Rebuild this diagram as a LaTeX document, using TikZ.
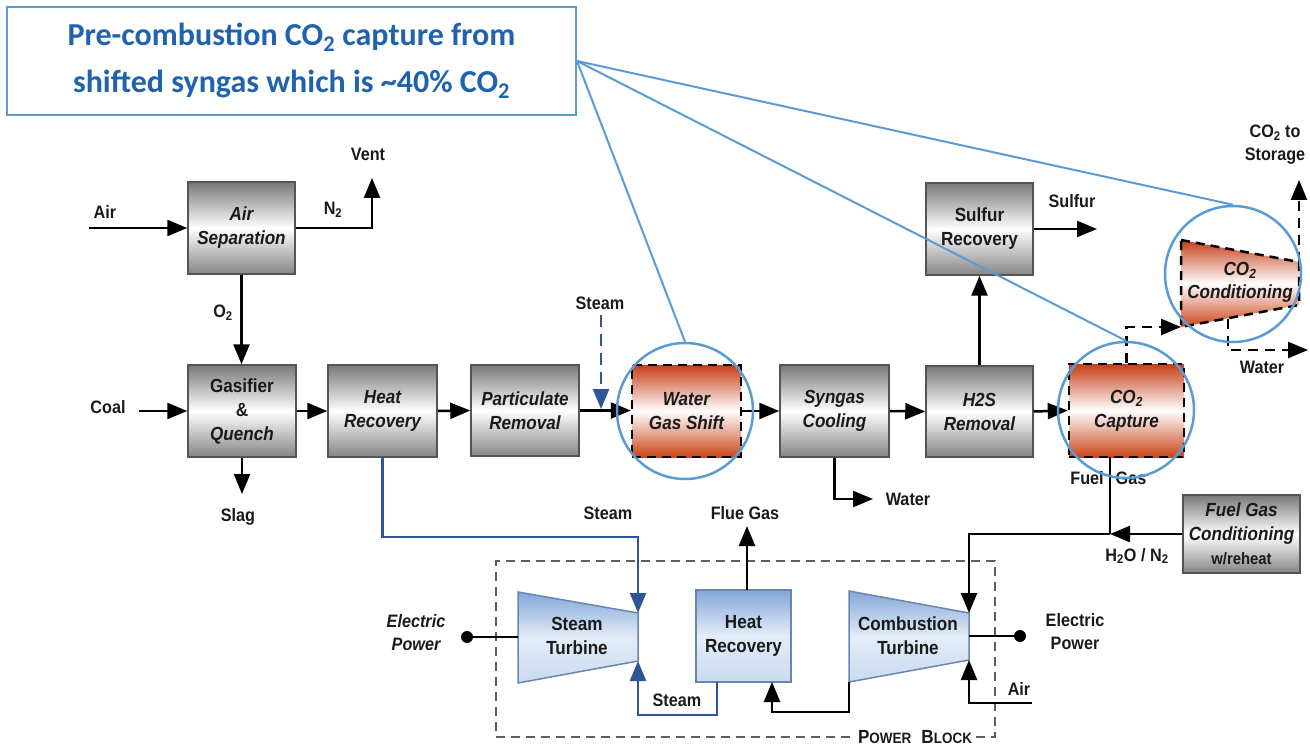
\documentclass[tikz,border=0pt]{standalone}
\usepackage{fontspec}
\setmainfont[FakeStretch=0.9]{Liberation Sans}
\newfontfamily\titlefont{Carlito}
\usetikzlibrary{arrows.meta}
\definecolor{cblue}{HTML}{5B9BD5}
\definecolor{tblue}{HTML}{1F63AE}
\definecolor{sblue}{HTML}{2E5597}
\definecolor{gtop}{HTML}{787878}
\definecolor{gbot}{HTML}{858585}
\definecolor{gline}{HTML}{555555}
\definecolor{otop}{HTML}{C63E18}
\definecolor{obot}{HTML}{CB4519}
\definecolor{btop}{HTML}{82A7D9}
\definecolor{bmid}{HTML}{E4ECF8}
\definecolor{bbot}{HTML}{CADAF0}
\definecolor{bline}{HTML}{6A86AE}
\definecolor{pbgray}{HTML}{5E5E5E}
\definecolor{txt}{HTML}{1A1A1A}
\begin{document}
\begin{tikzpicture}[x=1pt,y=-1pt,
  flow/.style={line width=2.5pt,draw=black,-{Triangle[length=20pt,width=16pt]}},
  dflow/.style={flow,dash pattern=on 10pt off 7pt},
  sflow/.style={line width=2.5pt,draw=sblue,-{Triangle[length=20pt,width=16pt]}},
  plain/.style={line width=2.5pt,draw=black},
  graybox/.style={draw=gline,line width=1.5pt,top color=gtop,bottom color=gbot,middle color=white,
    inner sep=0pt,align=center,text=txt,font=\fontsize{19}{24}\selectfont\bfseries},
  orangebox/.style={draw=black,line width=2.5pt,dash pattern=on 9pt off 6pt,top color=otop,bottom color=obot,middle color=white,
    inner sep=0pt,align=center,text=txt,font=\fontsize{19}{24}\selectfont\bfseries\itshape},
  bluebox/.style={draw=bline,line width=1.5pt,top color=btop,bottom color=bbot,middle color=bmid,
    inner sep=0pt,align=center,text=txt,font=\fontsize{19}{24}\selectfont\bfseries},
  txtnode/.style={inner sep=0pt,align=center,text=txt,font=\fontsize{19}{24}\selectfont\bfseries},
  lbl/.style={inner sep=0pt,align=center,text=txt,font=\fontsize{18}{23}\selectfont\bfseries},
  ring/.style={circle,draw=cblue,line width=2.5pt,minimum size=136pt,inner sep=0pt},
  callout/.style={draw=cblue,line width=2pt}
]
\useasboundingbox (0,0) rectangle (1310,746);

% ---------- title box ----------
\node[draw=cblue,line width=2pt,minimum width=569pt,minimum height=108pt,inner sep=0pt,
  align=center,text=tblue,font=\titlefont\fontsize{32}{47}\selectfont\bfseries] (title) at (291.5,61)
  {Pre-combustion CO\textsubscript{2} capture from\\shifted syngas which is \textasciitilde40\% CO\textsubscript{2}};

% ---------- gray process boxes ----------
\node[graybox,minimum width=107pt,minimum height=92pt] (asep) at (241.5,228) {\itshape Air\\\itshape Separation};
\node[graybox,minimum width=108pt,minimum height=92pt] (gasq) at (242,411) {Gasifier\\\&\\\itshape Quench};
\node[graybox,minimum width=109pt,minimum height=92pt] (hr1) at (382.5,411) {\itshape Heat\\\itshape Recovery};
\node[graybox,minimum width=108pt,minimum height=91pt] (part) at (525,410.5) {\itshape Particulate\\\itshape Removal};
\node[orangebox,minimum width=109pt,minimum height=92pt] (wgs) at (686.5,411) {Water\\Gas Shift};
\node[graybox,minimum width=109pt,minimum height=92pt] (syn) at (834.5,411) {\itshape Syngas\\\itshape Cooling};
\node[graybox,minimum width=107pt,minimum height=91pt] (h2s) at (979.5,411.5) {\itshape H2S\\\itshape Removal};
\node[graybox,minimum width=107pt,minimum height=92pt] (sulf) at (979.5,229) {Sulfur\\Recovery};
\node[orangebox,minimum width=115pt,minimum height=93pt] (cap) at (1126.5,410.5) {CO\textsubscript{2}\\Capture};
\node[graybox,minimum width=117pt,minimum height=78pt] (fgc) at (1241.5,534)
  {\itshape Fuel Gas\\\itshape Conditioning\\\fontsize{16.5}{20}\selectfont w/reheat};

% ---------- CO2 conditioning trapezoid ----------
\coordinate (cd1) at (1181,240);
\coordinate (cd2) at (1299,262);
\coordinate (cd3) at (1299,305);
\coordinate (cd4) at (1181,327);
\path[top color=otop,bottom color=obot,middle color=white] (cd1) -- (cd2) -- (cd3) -- (cd4) -- cycle;
\draw[line width=2.5pt,dash pattern=on 9pt off 6pt] (cd1) -- (cd2) -- (cd3) -- (cd4) -- cycle;
\node[txtnode,font=\fontsize{19}{23}\selectfont\bfseries\itshape] (cond) at (1240,282) {CO\textsubscript{2}\\Conditioning};

% ---------- power block ----------
\node[draw=pbgray,line width=1.5pt,dash pattern=on 9pt off 6pt,minimum width=499pt,minimum height=176pt,inner sep=0pt] (pb) at (745.5,649) {};
\node[fill=white,inner sep=3pt,text=txt,font=\bfseries] (pblbl) at (915,737)
  {\fontsize{19}{20}\selectfont P\fontsize{15}{20}\selectfont OWER\hspace{10pt}\fontsize{19}{20}\selectfont B\fontsize{15}{20}\selectfont LOCK};

% steam turbine
\coordinate (st1) at (518,592);
\coordinate (st2) at (638,613);
\coordinate (st3) at (638,661);
\coordinate (st4) at (518,683);
\coordinate (ste) at (518,637);
\path[top color=btop,bottom color=bbot,middle color=bmid] (st1) -- (st2) -- (st3) -- (st4) -- cycle;
\draw[draw=bline,line width=1.5pt] (st1) -- (st2) -- (st3) -- (st4) -- cycle;
\node[txtnode] (st) at (577,636) {Steam\\Turbine};

% combustion turbine
\coordinate (ct1) at (849,591);
\coordinate (ct2) at (969,613);
\coordinate (ct3) at (969,660);
\coordinate (ct4) at (849,682);
\coordinate (cte) at (969,636);
\path[top color=btop,bottom color=bbot,middle color=bmid] (ct1) -- (ct2) -- (ct3) -- (ct4) -- cycle;
\draw[draw=bline,line width=1.5pt] (ct1) -- (ct2) -- (ct3) -- (ct4) -- cycle;
\node[txtnode] (ct) at (908,636) {Combustion\\Turbine};

% heat recovery (HRSG)
\node[bluebox,minimum width=95pt,minimum height=92pt] (hr2) at (743.5,636) {Heat\\Recovery};

% ---------- coordinates for free ends ----------
\coordinate (airin) at (89,228);
\coordinate (vent) at (372,178);
\coordinate (coalin) at (139,411);
\coordinate (slag) at (242,494);
\coordinate (stmtop) at (601,315);
\coordinate (stmbot) at (601,409);
\coordinate (sulfout) at (1097,229);
\coordinate (synw) at (873,499);
\coordinate (condw) at (1228,319);
\coordinate (condwout) at (1308,350);
\coordinate (storage) at (1299,180);
\coordinate (capfg) at (1110,457);
\coordinate (fgj) at (1110,534);
\coordinate (ctdot) at (1020,636);
\coordinate (ctair) at (1032,703);
\coordinate (hrin) at (772,682);
\coordinate (hrst) at (717,682);
\coordinate (flue) at (747,526);
\coordinate (hrflue) at (747,590);
\coordinate (stdot) at (467,637);

% ---------- connectors ----------
\draw[flow] (airin) -- (asep.west);
\draw[flow] (asep.east) -| (vent);
\draw[flow] (asep.south) -- (asep.south |- gasq.north);
\draw[flow] (coalin) -- (gasq.west);
\draw[flow] (gasq.south) -- (slag);
\draw[flow] (gasq.east) -- (hr1.west);
\draw[flow] (hr1.east) -- (part.west);
\draw[flow] (part.east) -- (wgs.west |- part.east);
\draw[line width=2.5pt,draw=sblue,dash pattern=on 12pt off 7pt,-{Triangle[length=20pt,width=16pt]}] (stmtop) -- (stmbot);
\draw[flow] (wgs.east) -- (syn.west);
\draw[flow] (syn.east) -- (h2s.west);
\draw[flow] (h2s.east) -- (cap.west);
\draw[flow] (h2s.north) -- (sulf.south);
\draw[flow] (sulf.east) -- (sulfout);
\draw[flow] (syn.south) |- (synw);
\draw[dflow] (cap.north) |- (cd4);
\draw[dflow] (condw) |- (condwout);
\draw[dflow] (cd2) -- (storage);
\draw[plain] (capfg) -- (fgj);
\draw[flow] (fgj) -| (ct2);
\draw[flow] (fgc.west) -- (fgj);
\draw[plain] (cte) -- (ctdot);
\fill (ctdot) circle (6);
\draw[flow] (ctair) -| (ct3);
\draw[flow] (ct4) -- ++(0,30) -| (hrin);
\draw[flow] (hrflue) -- (flue);
\draw[sflow] (hr1.south) -- ++(0,79) -| (st2);
\draw[sflow] (hrst) -- ++(0,33) -| (st3);
\draw[plain] (stdot) -- (ste);
\fill (stdot) circle (6);

% ---------- labels ----------
\node[lbl] (lair) at (105,212) {Air};
\node[lbl] (ln2) at (333,210) {N\textsubscript{2}};
\node[lbl] (lvent) at (368,154) {Vent};
\node[lbl] (lo2) at (223,313) {O\textsubscript{2}};
\node[lbl] (lcoal) at (108,407) {Coal};
\node[lbl] (lslag) at (238,517) {Slag};
\node[lbl] (lsteam1) at (600,303) {Steam};
\node[lbl] (lsulf) at (1072,201) {Sulfur};
\node[lbl] (lwater1) at (908,499) {Water};
\node[lbl] (lstor) at (1275,145) {CO\textsubscript{2} to\\Storage};
\node[lbl] (lwater2) at (1262,367) {Water};
\node[lbl] (lfuel) at (1087,478) {Fuel};
\node[lbl] (lgas) at (1131,478) {Gas};
\node[lbl] (lh2o) at (1137,556) {H\textsubscript{2}O / N\textsubscript{2}};
\node[lbl] (lsteam2) at (608,513) {Steam};
\node[lbl] (lflue) at (745,513) {Flue Gas};
\node[lbl] (lsteam3) at (677,700) {Steam};
\node[lbl,font=\fontsize{18}{23}\selectfont\bfseries\itshape] (lep1) at (416,633) {Electric\\Power};
\node[lbl] (lep2) at (1075,632) {Electric\\Power};
\node[lbl] (lair2) at (1019,689) {Air};

% ---------- highlight rings and callouts ----------
\node[ring] (wgsc) at (685,411) {};
\node[ring] (capc) at (1126,410) {};
\node[ring] (condc) at (1233,274) {};
\draw[callout] (title.east) -- (wgsc.north);
\draw[callout] (title.east) -- (capc.north);
\draw[callout] (title.east) -- (condc.north);
\end{tikzpicture}
\end{document}
